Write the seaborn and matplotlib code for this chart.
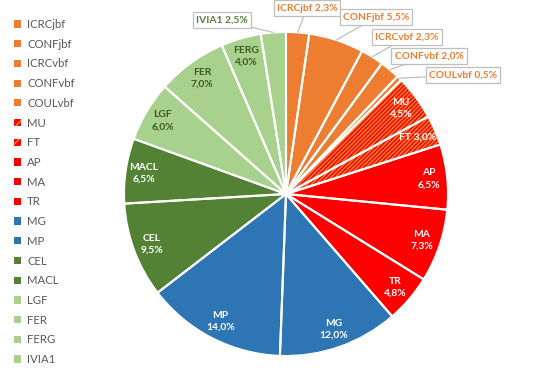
import numpy as np
import matplotlib
matplotlib.use("Agg")
import matplotlib.pyplot as plt
from matplotlib.patches import Patch
import seaborn as sns

categories = ["ICRCjbf", "CONFjbf", "ICRCvbf", "CONFvbf", "COULvbf", "MU", "FT", "AP", "MA", "TR",
              "MG", "MP", "CEL", "MACL", "LGF", "FER", "FERG", "IVIA1"]
values = [2.3, 5.5, 2.3, 2.0, 0.5, 4.5, 3.0, 6.5, 7.3, 4.8, 12.0, 14.0, 9.5, 6.5, 6.0, 7.0, 4.0, 2.5]
value_labels = ["2,3%", "5,5%", "2,3%", "2,0%", "0,5%", "4,5%", "3,0%", "6,5%", "7,3%", "4,8%",
                "12,0%", "14,0%", "9,5%", "6,5%", "6,0%", "7,0%", "4,0%", "2,5%"]

ORANGE = "#ED7D31"
RED = "#FF0000"
BLUE = "#2E75B6"
DGREEN = "#548235"
LGREEN = "#A9D18E"
group_color = {"ICRCjbf": ORANGE, "CONFjbf": ORANGE, "ICRCvbf": ORANGE, "CONFvbf": ORANGE,
               "COULvbf": ORANGE, "MU": RED, "FT": RED, "AP": RED, "MA": RED, "TR": RED,
               "MG": BLUE, "MP": BLUE, "CEL": DGREEN, "MACL": DGREEN, "LGF": LGREEN,
               "FER": LGREEN, "FERG": LGREEN, "IVIA1": LGREEN}
hatched = {"MU", "FT"}
callouts = {"IVIA1", "ICRCjbf", "CONFjbf", "ICRCvbf", "CONFvbf", "COULvbf"}
single_line = {"FT"}

sns.set_style("white")
plt.rcParams["font.family"] = ["Lato", "DejaVu Sans"]
plt.rcParams["hatch.linewidth"] = 1.1

W, H = 553, 374
fig = plt.figure(figsize=(W / 100, H / 100), dpi=100)
ax = fig.add_axes([0, 0, 1, 1])

cx, cy, R = 286, H - 194, 162
colors = [group_color[c] for c in categories]

wedges, _ = ax.pie(values, colors=colors, startangle=90, counterclock=False,
                   center=(cx, cy), radius=R, wedgeprops=dict(linewidth=0))
for w, c in zip(wedges, categories):
    if c in hatched:
        w.set_hatch("////////")
        w.set_edgecolor(ORANGE)
        w.set_linewidth(0)
# white separators
wedges2, _ = ax.pie(values, colors=["none"] * len(values), startangle=90, counterclock=False,
                    center=(cx, cy), radius=R,
                    wedgeprops=dict(linewidth=1.5, edgecolor="white", fill=False))

# callout box positions (pixel coordinates, top-left origin)
callout_pos = {"IVIA1": (222, 20), "ICRCjbf": (307, 8), "CONFjbf": (376, 17),
               "ICRCvbf": (407, 37), "CONFvbf": (429, 56), "COULvbf": (463, 75)}

for w, c, lab in zip(wedges, categories, value_labels):
    mid = np.deg2rad((w.theta1 + w.theta2) / 2)
    if c in callouts:
        tx, ty = callout_pos[c]
        ex, ey = cx + R * np.cos(mid), cy + R * np.sin(mid)
        tc = DGREEN if c == "IVIA1" else ORANGE
        ax.annotate(f"{c} {lab}", xy=(ex, ey), xytext=(tx, H - ty), ha="center", va="center",
                    fontsize=7.4, fontweight="bold", color=tc,
                    bbox=dict(boxstyle="square,pad=0.3", fc="white", ec="#BFBFBF", lw=0.9),
                    arrowprops=dict(arrowstyle="-", color="#BFBFBF", lw=0.9, shrinkA=0, shrinkB=0))
    else:
        r = 0.885 * R
        x, y = cx + r * np.cos(mid), cy + r * np.sin(mid)
        tc = "#3A5A22" if group_color[c] == LGREEN else "white"
        txt = f"{c} {lab}" if c in single_line else f"{c}\n{lab}"
        ax.text(x, y, txt, ha="center", va="center", fontsize=7.4, fontweight="bold",
                color=tc, linespacing=1.4)

ax.set_xlim(0, W)
ax.set_ylim(0, H)
ax.set_aspect("auto")
ax.axis("off")

handles = []
for c in categories:
    if c in hatched:
        handles.append(Patch(facecolor=RED, edgecolor=ORANGE, hatch="////", linewidth=0))
    else:
        handles.append(Patch(facecolor=group_color[c], edgecolor="none"))
leg = fig.legend(handles, categories, loc="upper left", bbox_to_anchor=(14 / W, 1 - 19 / H),
                 frameon=False, fontsize=8.2, handlelength=0.6, handleheight=0.6,
                 handletextpad=0.55, labelspacing=0.765, borderpad=0, borderaxespad=0)
for t in leg.get_texts():
    t.set_color("#595959")

fig.savefig("out.png", dpi=100)
